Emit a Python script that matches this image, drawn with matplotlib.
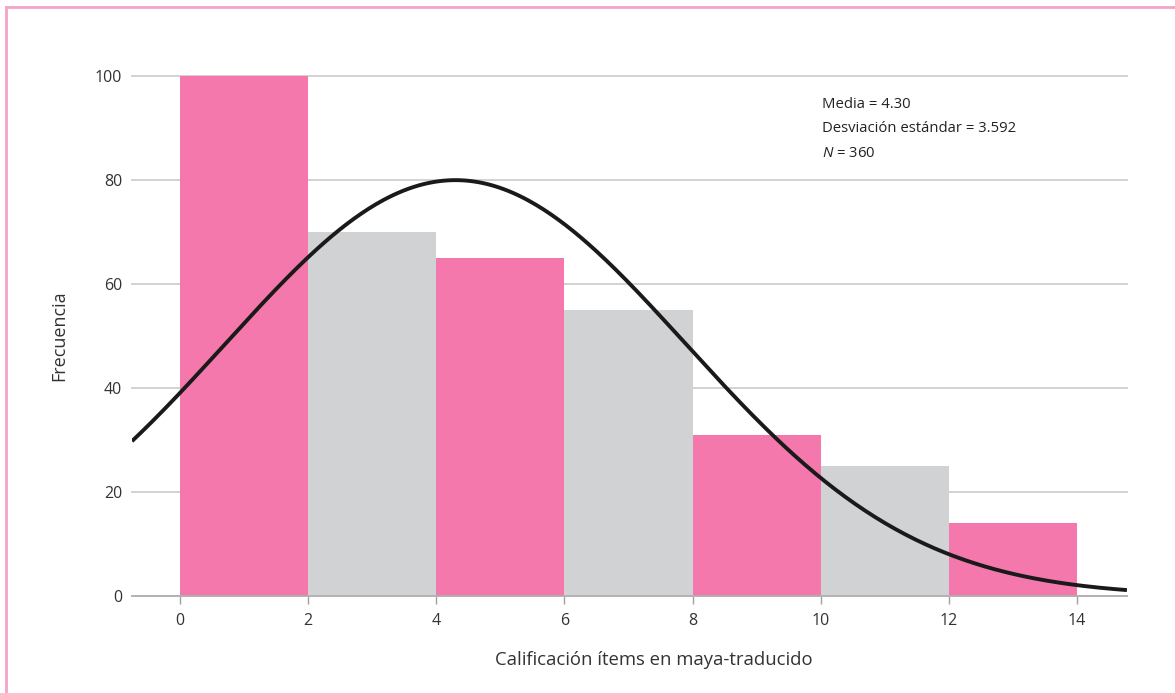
import matplotlib
matplotlib.use('Agg')
import matplotlib.pyplot as plt
from matplotlib.lines import Line2D
import numpy as np

# histogram data
bin_edges = [0, 2, 4, 6, 8, 10, 12, 14]
counts = [100, 70, 65, 55, 31, 25, 14]
bar_colors = ['#F478AC', '#D1D2D4', '#F478AC', '#D1D2D4', '#F478AC', '#D1D2D4', '#F478AC']

# summary stats shown in the chart
media = 4.30
desv = 3.592
n_total = 360

x_ticks = [0, 2, 4, 6, 8, 10, 12, 14]
y_ticks = [0, 20, 40, 60, 80, 100]

plt.rcParams['font.family'] = ['Open Sans', 'DejaVu Sans']
plt.rcParams['mathtext.fontset'] = 'custom'
plt.rcParams['mathtext.it'] = 'Open Sans:italic'
plt.rcParams['mathtext.rm'] = 'Open Sans'

fig = plt.figure(figsize=(11.75, 6.93), dpi=100)
ax = fig.add_axes([0.1123, 0.14, 0.8468, 0.7504])

lefts = bin_edges[:-1]
widths = np.diff(bin_edges)
ax.bar(lefts, counts, width=widths, align='edge', color=bar_colors,
       edgecolor='none', zorder=2)

# fitted normal curve
bw = bin_edges[1] - bin_edges[0]
xs = np.linspace(-0.75, 14.78, 400)
ys = n_total * bw / (desv * np.sqrt(2 * np.pi)) * np.exp(-0.5 * ((xs - media) / desv) ** 2)
ax.plot(xs, ys, color='#1a1a1a', lw=2.8, zorder=3, solid_capstyle='butt')

ax.set_xlim(-0.75, 14.78)
ax.set_ylim(0, 100)
ax.set_xticks(x_ticks)
ax.set_yticks(y_ticks)

ax.yaxis.grid(True, color='#CFCFCF', lw=1.3, zorder=0)
ax.set_axisbelow(True)
for gl in ax.get_ygridlines():
    gl.set_clip_on(False)

for s in ['top', 'right', 'left']:
    ax.spines[s].set_visible(False)
ax.spines['bottom'].set_color('#B0B0B0')
ax.spines['bottom'].set_linewidth(1.3)
ax.spines['bottom'].set_zorder(4)

ax.tick_params(axis='y', length=0, pad=7, labelsize=11.5, labelcolor='#333333')
ax.tick_params(axis='x', length=6, width=1, color='#A0A0A0', pad=6,
               labelsize=11.5, labelcolor='#333333')

ax.set_xlabel('Calificación ítems en maya-traducido', fontsize=13.3, color='#333333', labelpad=16)
ax.xaxis.label.set_x(0.524)
ax.set_ylabel('Frecuencia', fontsize=13, color='#333333', labelpad=19)

ax.text(0.6935, 0.946, 'Media = 4.30', transform=ax.transAxes, fontsize=10.7,
        color='#222222', va='center')
ax.text(0.6935, 0.898, 'Desviación estándar = 3.592', transform=ax.transAxes, fontsize=10.7,
        color='#222222', va='center')
ax.text(0.6935, 0.850, r'$\mathit{N}$ = 360', transform=ax.transAxes, fontsize=10.7,
        color='#222222', va='center')

# pink frame on top and left
fig.add_artist(Line2D([6 / 1175, 1], [1 - 7 / 693, 1 - 7 / 693], color='#F6A3C8', lw=2,
                      transform=fig.transFigure))
fig.add_artist(Line2D([6 / 1175, 6 / 1175], [0, 1 - 7 / 693], color='#F6A3C8', lw=2,
                      transform=fig.transFigure))

fig.savefig('out.png', dpi=100)
